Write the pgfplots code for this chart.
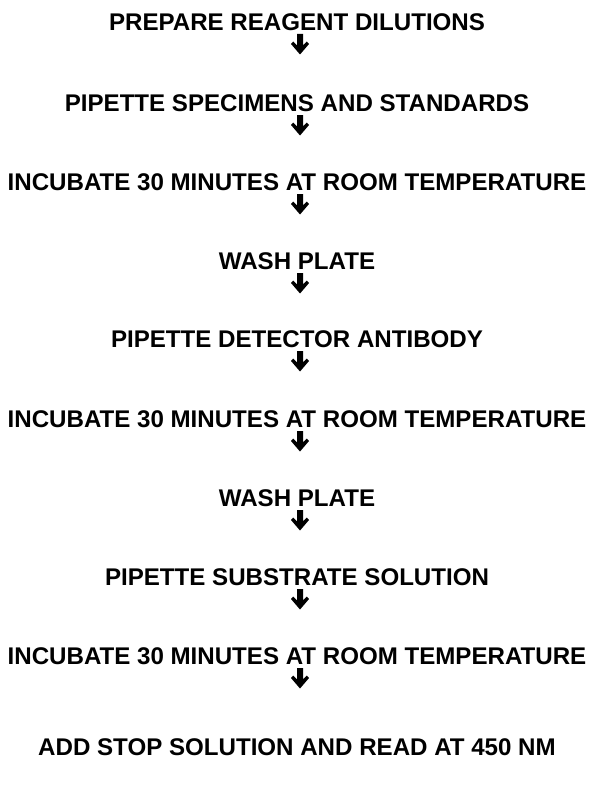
\documentclass[border=0pt]{standalone}
\usepackage{pgfplots}
\usepackage{pgfplotstable}
\pgfplotsset{compat=1.18}
\usepackage{fontspec}
\setmainfont{Liberation Sans}
\pgfplotstableread{
dx dy
-3 0
3 0
3 11.5
6.8 7.5
9 10
0 20.5
-9 10
-6.8 7.5
-3 11.5
}\arrowshape
\newcommand{\arrowat}[1]{%
\addplot[fill=black,draw=none] table[x expr=300+\thisrow{dx}, y expr=#1+\thisrow{dy}] {\arrowshape} -- cycle;}
\tikzset{flowstep/.style={font=\fontsize{24.2}{28}\selectfont\bfseries, anchor=center, inner sep=0pt}}
\begin{document}
\begin{tikzpicture}
\begin{axis}[
  x=1bp, y=1bp,
  xmin=0, xmax=593, ymin=0, ymax=794,
  y dir=reverse,
  hide axis, clip=false,
]
\addplot[draw=none] coordinates {(0,0) (593,794)};
\node[flowstep] at (axis cs:297,22) {PREPARE REAGENT DILUTIONS};
\node[flowstep] at (axis cs:297,103) {PIPETTE SPECIMENS AND STANDARDS};
\node[flowstep] at (axis cs:297,182) {INCUBATE 30 MINUTES AT ROOM TEMPERATURE};
\node[flowstep] at (axis cs:297,261) {WASH PLATE};
\node[flowstep] at (axis cs:297,339) {PIPETTE DETECTOR ANTIBODY};
\node[flowstep] at (axis cs:297,419) {INCUBATE 30 MINUTES AT ROOM TEMPERATURE};
\node[flowstep] at (axis cs:297,498) {WASH PLATE};
\node[flowstep] at (axis cs:297,577) {PIPETTE SUBSTRATE SOLUTION};
\node[flowstep] at (axis cs:297,656) {INCUBATE 30 MINUTES AT ROOM TEMPERATURE};
\node[flowstep] at (axis cs:297,747) {ADD STOP SOLUTION AND READ AT 450 NM};
\arrowat{34}
\arrowat{115}
\arrowat{194}
\arrowat{273}
\arrowat{351}
\arrowat{431}
\arrowat{510}
\arrowat{589}
\arrowat{668}
\end{axis}
\end{tikzpicture}
\end{document}
